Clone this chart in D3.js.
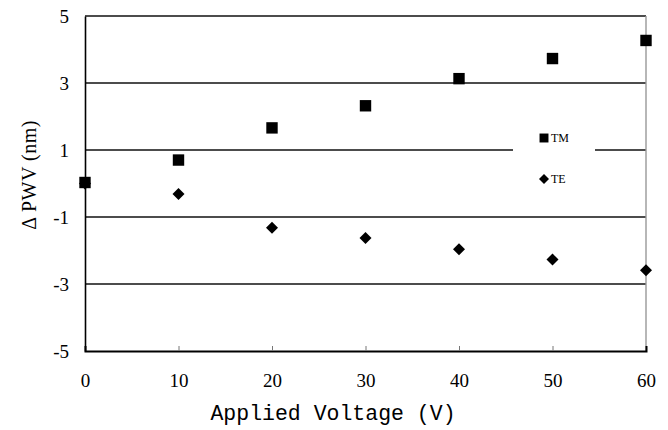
<!DOCTYPE html>
<html lang="en">
<head>
    <meta charset="UTF-8">
    <title>PWV shift vs applied voltage</title>
    <script src="https://d3js.org/d3.v7.min.js"></script>
    <style>
        body { margin: 0; background: #fff; }
    </style>
</head>
<body>
    <svg id="chart"></svg>
    <script>
        // Data
        var voltages = [0, 10, 20, 30, 40, 50, 60];
        var tmValues = [0.03, 0.70, 1.66, 2.32, 3.13, 3.73, 4.27];
        var teValues = [0.0, -0.31, -1.32, -1.63, -1.96, -2.27, -2.59];
        var xTicks = [0, 10, 20, 30, 40, 50, 60];
        var yTicks = [-5, -3, -1, 1, 3, 5];

        var width = 668, height = 430;
        var margin = { top: 16, right: 22, bottom: 79, left: 85 };
        var innerW = width - margin.left - margin.right;
        var innerH = height - margin.top - margin.bottom;
        var serif = "'Liberation Serif', 'DejaVu Serif', serif";

        var svg = d3.select("#chart")
            .attr("width", width)
            .attr("height", height);

        var g = svg.append("g")
            .attr("transform", "translate(" + margin.left + "," + margin.top + ")");

        // Scales
        var x = d3.scaleLinear().domain([0, 60]).range([0, innerW]);
        var y = d3.scaleLinear().domain([-5, 5]).range([innerH, 0]);

        // Horizontal gridlines (including top border)
        g.selectAll(".grid")
            .data(yTicks.filter(d => d > -5))
            .enter().append("line")
            .attr("x1", 0)
            .attr("x2", innerW)
            .attr("y1", d => y(d))
            .attr("y2", d => y(d))
            .attr("stroke", "#111")
            .attr("stroke-width", 1.4);

        // Right border (grey)
        g.append("line")
            .attr("x1", innerW).attr("x2", innerW)
            .attr("y1", 0).attr("y2", innerH)
            .attr("stroke", "#999")
            .attr("stroke-width", 1.4);

        // x-axis
        var xAxis = g.append("g")
            .attr("transform", "translate(0," + innerH + ")")
            .call(d3.axisBottom(x).tickValues(xTicks).tickSize(-5).tickPadding(23).tickFormat(d => String(d)));
        xAxis.select(".domain").attr("stroke", "#000").attr("stroke-width", 2);
        xAxis.selectAll(".tick line").attr("stroke", "#777").attr("stroke-width", 1)
            .style("display", d => (d === 0 || d === 60) ? "none" : null);
        xAxis.selectAll(".tick text")
            .style("font-family", serif).style("font-size", "19px").style("fill", "#000");

        // y-axis
        var yAxis = g.append("g")
            .call(d3.axisLeft(y).tickValues(yTicks).tickSize(0).tickPadding(16).tickFormat(d => String(d)));
        yAxis.select(".domain").attr("stroke", "#000").attr("stroke-width", 1.6);
        yAxis.selectAll(".tick text")
            .style("font-family", serif).style("font-size", "19px").style("fill", "#000");

        // Legend (white box breaking gridline)
        var legend = g.append("g").attr("transform", "translate(" + (513 - margin.left) + "," + (118 - margin.top) + ")");
        legend.append("rect")
            .attr("width", 82).attr("height", 80)
            .attr("fill", "#fff");
        legend.append("path")
            .attr("d", d3.symbol(d3.symbolSquare, 80)())
            .attr("transform", "translate(31,20)");
        legend.append("text").attr("x", 38).attr("y", 24).text("TM")
            .style("font-family", serif).style("font-size", "12px");
        legend.append("path")
            .attr("d", d3.symbol(d3.symbolSquare, 50)())
            .attr("transform", "translate(31,61) rotate(45)");
        legend.append("text").attr("x", 38).attr("y", 65).text("TE")
            .style("font-family", serif).style("font-size", "12px");

        // TE series (diamonds)
        g.selectAll(".te")
            .data(voltages.map((v, i) => ({ v: v, val: teValues[i] })))
            .enter().append("path")
            .attr("class", "te")
            .attr("d", d3.symbol(d3.symbolSquare, 72)())
            .attr("transform", d => "translate(" + x(d.v) + "," + y(d.val) + ") rotate(45)")
            .attr("fill", "#000");

        // TM series (squares)
        g.selectAll(".tm")
            .data(voltages.map((v, i) => ({ v: v, val: tmValues[i] })))
            .enter().append("path")
            .attr("class", "tm")
            .attr("d", d3.symbol(d3.symbolSquare, 130)())
            .attr("transform", d => "translate(" + x(d.v) + "," + y(d.val) + ")")
            .attr("fill", "#000");

        // Axis titles
        svg.append("text")
            .attr("x", 333)
            .attr("y", 420)
            .attr("text-anchor", "middle")
            .style("font-family", "'Liberation Mono', 'DejaVu Sans Mono', monospace")
            .style("font-size", "21.5px")
            .text("Applied Voltage (V)");

        svg.append("text")
            .attr("transform", "translate(36,175) rotate(-90)")
            .attr("text-anchor", "middle")
            .style("font-family", serif)
            .style("font-size", "20px")
            .style("letter-spacing", "0.5px")
            .text("\u0394 PWV  (nm)");
    </script>
</body>
</html>
